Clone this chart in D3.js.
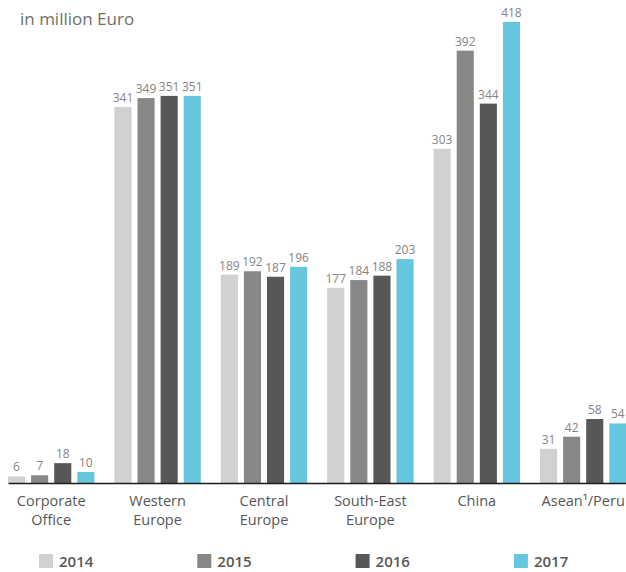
<!DOCTYPE html>
<html lang="en">
<head>
  <meta charset="UTF-8" />
  <title>Regions by year</title>
  <style>
    body { margin: 0; background: #fff; }
    svg { display: block; font-family: "Open Sans", "Noto Sans", sans-serif; }
  </style>
</head>
<body>
  <svg width="626" height="572"></svg>
  <script src="https://d3js.org/d3.v7.min.js"></script>
  <script>
    // values
    const regions = ['Corporate Office', 'Western Europe', 'Central Europe', 'South-East Europe', 'China', 'Asean¹/Peru'];
    const regionLines = [['Corporate', 'Office'], ['Western', 'Europe'], ['Central', 'Europe'], ['South-East', 'Europe'], ['China'], ['Asean¹/Peru']];
    const years = ['2014', '2015', '2016', '2017'];
    const v2014 = [6, 341, 189, 177, 303, 31];
    const v2015 = [7, 349, 192, 184, 392, 42];
    const v2016 = [18, 351, 187, 188, 344, 58];
    const v2017 = [10, 351, 196, 203, 418, 54];
    const series = [v2014, v2015, v2016, v2017];
    const colors = ['#d0d1d0', '#878786', '#575756', '#66c6dd'];

    const svg = d3.select('svg');
    const baseY = 483;

    const x0 = d3.scaleBand().domain(regions).range([8, 626.4]).paddingInner(0.188).paddingOuter(0);
    const x1 = d3.scaleBand().domain(years).range([0, x0.bandwidth()]).paddingInner(0.26);
    const y = d3.scaleLinear().domain([0, 418]).range([baseY, 22]);
    const color = d3.scaleOrdinal().domain(years).range(colors);

    // title
    svg.append('text')
      .attr('x', 20).attr('y', 25)
      .attr('fill', '#6f6f6e')
      .attr('font-size', 17)
      .text('in million Euro');

    const groups = svg.selectAll('g.region')
      .data(regions)
      .enter().append('g')
      .attr('class', 'region')
      .attr('transform', d => `translate(${x0(d)},0)`);

    groups.selectAll('rect')
      .data((d, i) => years.map((yr, j) => ({ yr, v: series[j][i] })))
      .enter().append('rect')
      .attr('x', d => x1(d.yr))
      .attr('width', x1.bandwidth())
      .attr('y', d => y(d.v))
      .attr('height', d => baseY - y(d.v))
      .attr('fill', d => color(d.yr));

    groups.selectAll('text.val')
      .data((d, i) => years.map((yr, j) => ({ yr, v: series[j][i] })))
      .enter().append('text')
      .attr('class', 'val')
      .attr('x', d => x1(d.yr) + x1.bandwidth() / 2)
      .attr('y', d => y(d.v) - 5)
      .attr('text-anchor', 'middle')
      .attr('font-size', 12)
      .attr('fill', '#858585')
      .text(d => d.v);

    // axis
    const axis = svg.append('g')
      .attr('transform', `translate(0,${baseY})`)
      .call(d3.axisBottom(x0).tickSize(0).tickFormat(''));
    axis.select('.domain').attr('stroke', '#1d1d1b').attr('stroke-width', 1.6);

    groups.append('text')
      .attr('x', x0.bandwidth() / 2)
      .attr('y', 506)
      .attr('text-anchor', 'middle')
      .attr('font-size', 14.5)
      .attr('fill', '#575756')
      .selectAll('tspan')
      .data((d, i) => regionLines[i])
      .enter().append('tspan')
      .attr('x', x0.bandwidth() / 2)
      .attr('dy', (d, i) => i === 0 ? 0 : 19)
      .text(d => d);

    // legend
    const legend = svg.selectAll('g.legend')
      .data(years)
      .enter().append('g')
      .attr('class', 'legend')
      .attr('transform', (d, i) => `translate(${39 + i * 158.3},554)`);
    legend.append('rect')
      .attr('width', 14).attr('height', 14)
      .attr('fill', d => color(d));
    legend.append('text')
      .attr('x', 20).attr('y', 12.5)
      .attr('font-size', 15)
      .attr('font-weight', 600)
      .attr('fill', '#575756')
      .text(d => d);
  </script>
</body>
</html>
